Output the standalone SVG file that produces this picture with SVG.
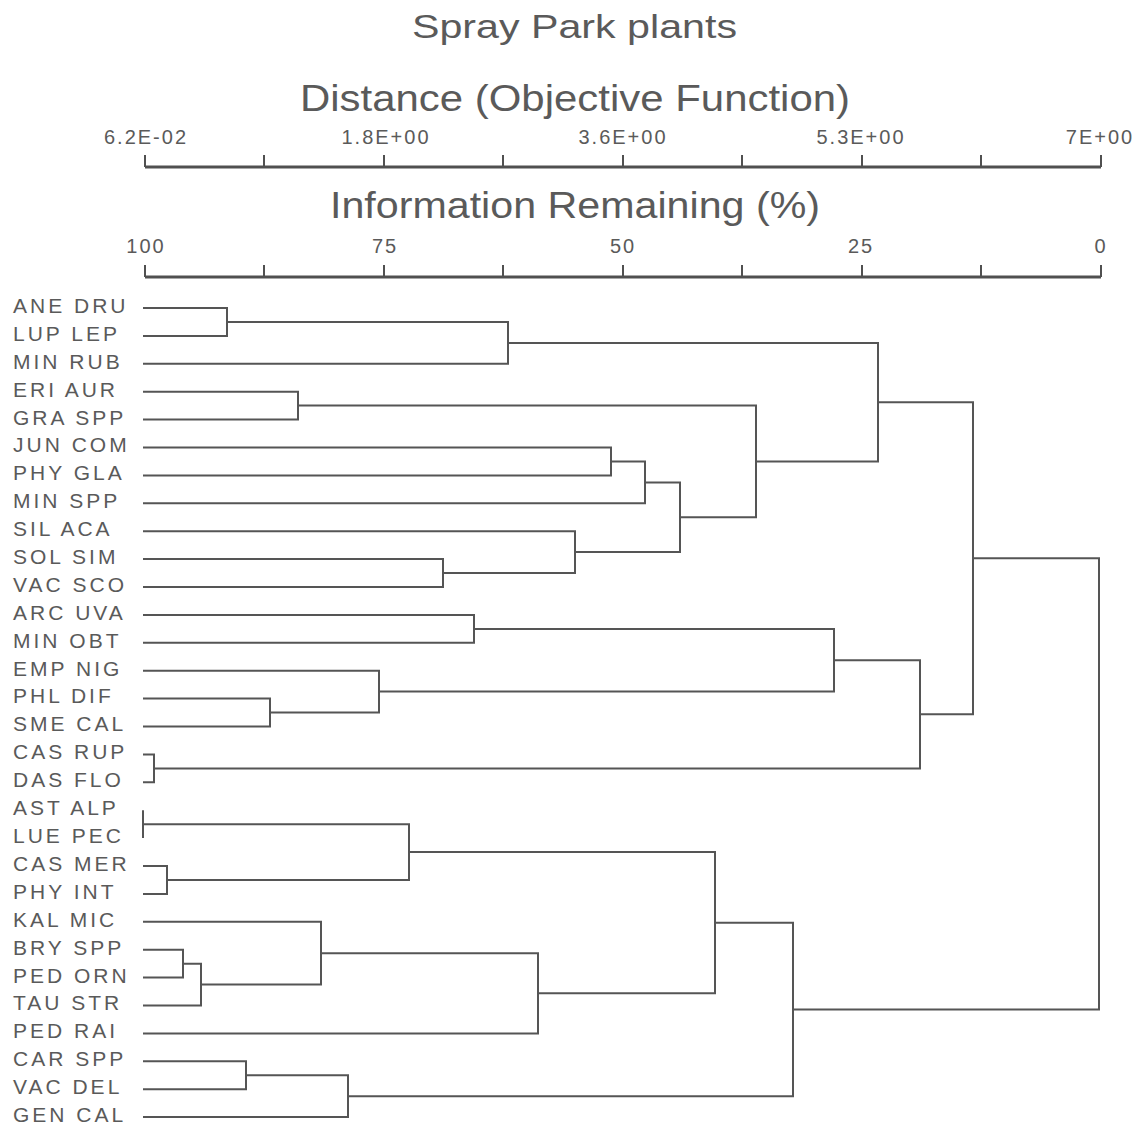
<svg xmlns="http://www.w3.org/2000/svg" width="1143" height="1130" viewBox="0 0 1143 1130">
<style>
text{font-family:"Liberation Sans",Arial,sans-serif;fill:#5a5a5a}
.title{font-size:34px}
.atitle{font-size:37px}
.tick{font-size:20px;letter-spacing:2px}
.leaf{font-size:21px;letter-spacing:3px}
.axis{stroke:#505050;stroke-width:3;fill:none}
.tk{stroke:#505050;stroke-width:2;fill:none}
.c{stroke:#555;stroke-width:2;fill:none}
</style>
<rect width="1143" height="1130" fill="#fff"/>
<text class="title" x="412" y="38" textLength="325" lengthAdjust="spacingAndGlyphs">Spray Park plants</text>
<g id="axis-distance">
<text class="atitle" x="300" y="111" textLength="550" lengthAdjust="spacingAndGlyphs">Distance (Objective Function)</text>
<g text-anchor="middle">
<text class="tick" x="146" y="144">6.2E-02</text>
<text class="tick" x="386" y="144">1.8E+00</text>
<text class="tick" x="623" y="144">3.6E+00</text>
<text class="tick" x="861" y="144">5.3E+00</text>
<text class="tick" x="1100" y="144">7E+00</text>
</g>
<path class="axis" d="M145 167H1101"/>
<path class="tk" d="M145 155V167M264 155V167M384 155V167M503 155V167M623 155V167M742 155V167M862 155V167M981 155V167M1101 155V167"/>
</g>
<g id="axis-info">
<text class="atitle" x="330" y="218" textLength="490" lengthAdjust="spacingAndGlyphs">Information Remaining (%)</text>
<g text-anchor="middle">
<text class="tick" x="146" y="253">100</text>
<text class="tick" x="385" y="253">75</text>
<text class="tick" x="623" y="253">50</text>
<text class="tick" x="861" y="253">25</text>
<text class="tick" x="1101" y="253">0</text>
</g>
<path class="axis" d="M145 277H1101"/>
<path class="tk" d="M145 265V277M264 265V277M384 265V277M503 265V277M623 265V277M742 265V277M862 265V277M981 265V277M1101 265V277"/>
</g>
<g id="leaves">
<g id="n-ANE-DRU"><text class="leaf" x="13" y="313">ANE DRU</text></g>
<g id="n-LUP-LEP"><text class="leaf" x="13" y="341">LUP LEP</text></g>
<g id="n-MIN-RUB"><text class="leaf" x="13" y="369">MIN RUB</text></g>
<g id="n-ERI-AUR"><text class="leaf" x="13" y="397">ERI AUR</text></g>
<g id="n-GRA-SPP"><text class="leaf" x="13" y="425">GRA SPP</text></g>
<g id="n-JUN-COM"><text class="leaf" x="13" y="452">JUN COM</text></g>
<g id="n-PHY-GLA"><text class="leaf" x="13" y="480">PHY GLA</text></g>
<g id="n-MIN-SPP"><text class="leaf" x="13" y="508">MIN SPP</text></g>
<g id="n-SIL-ACA"><text class="leaf" x="13" y="536">SIL ACA</text></g>
<g id="n-SOL-SIM"><text class="leaf" x="13" y="564">SOL SIM</text></g>
<g id="n-VAC-SCO"><text class="leaf" x="13" y="592">VAC SCO</text></g>
<g id="n-ARC-UVA"><text class="leaf" x="13" y="620">ARC UVA</text></g>
<g id="n-MIN-OBT"><text class="leaf" x="13" y="648">MIN OBT</text></g>
<g id="n-EMP-NIG"><text class="leaf" x="13" y="676">EMP NIG</text></g>
<g id="n-PHL-DIF"><text class="leaf" x="13" y="703">PHL DIF</text></g>
<g id="n-SME-CAL"><text class="leaf" x="13" y="731">SME CAL</text></g>
<g id="n-CAS-RUP"><text class="leaf" x="13" y="759">CAS RUP</text></g>
<g id="n-DAS-FLO"><text class="leaf" x="13" y="787">DAS FLO</text></g>
<g id="n-AST-ALP"><text class="leaf" x="13" y="815">AST ALP</text></g>
<g id="n-LUE-PEC"><text class="leaf" x="13" y="843">LUE PEC</text></g>
<g id="n-CAS-MER"><text class="leaf" x="13" y="871">CAS MER</text></g>
<g id="n-PHY-INT"><text class="leaf" x="13" y="899">PHY INT</text></g>
<g id="n-KAL-MIC"><text class="leaf" x="13" y="927">KAL MIC</text></g>
<g id="n-BRY-SPP"><text class="leaf" x="13" y="955">BRY SPP</text></g>
<g id="n-PED-ORN"><text class="leaf" x="13" y="983">PED ORN</text></g>
<g id="n-TAU-STR"><text class="leaf" x="13" y="1010">TAU STR</text></g>
<g id="n-PED-RAI"><text class="leaf" x="13" y="1038">PED RAI</text></g>
<g id="n-CAR-SPP"><text class="leaf" x="13" y="1066">CAR SPP</text></g>
<g id="n-VAC-DEL"><text class="leaf" x="13" y="1094">VAC DEL</text></g>
<g id="n-GEN-CAL"><text class="leaf" x="13" y="1122">GEN CAL</text></g>
</g>
<g id="connectors">
<path class="c" d="M143 308H227V335.9H143"/>
<path class="c" d="M227 322H508V363.8H143"/>
<path class="c" d="M143 391.7H298V419.6H143"/>
<path class="c" d="M143 447.5H611V475.4H143"/>
<path class="c" d="M611 461.5H645V503.3H143"/>
<path class="c" d="M143 559.1H443V587H143"/>
<path class="c" d="M143 531.2H575V573H443"/>
<path class="c" d="M645 482.4H680V552.1H575"/>
<path class="c" d="M298 405.6H756V517.3H680"/>
<path class="c" d="M508 343H878V461.5H756"/>
<path class="c" d="M143 614.9H474V642.8H143"/>
<path class="c" d="M143 698.6H270V726.5H143"/>
<path class="c" d="M143 670.7H379V712.6H270"/>
<path class="c" d="M474 628.9H834V691.6H379"/>
<path class="c" d="M143 754.4H154V782.3H143"/>
<path class="c" d="M834 660.3H920V768.4H154"/>
<path class="c" d="M878 402.2H973V714.3H920"/>
<path class="c" d="M143 810.2V838.1"/>
<path class="c" d="M143 866H167V893.9H143"/>
<path class="c" d="M143 824.2H409V880H167"/>
<path class="c" d="M143 949.7H183V977.6H143"/>
<path class="c" d="M183 963.7H201V1005.5H143"/>
<path class="c" d="M143 921.8H321V984.6H201"/>
<path class="c" d="M321 953.2H538V1033.4H143"/>
<path class="c" d="M409 852.1H715V993.3H538"/>
<path class="c" d="M143 1061.3H246V1089.2H143"/>
<path class="c" d="M246 1075.3H348V1117.1H143"/>
<path class="c" d="M715 922.7H793V1096.2H348"/>
<path class="c" d="M973 558.3H1099V1009.4H793"/>
</g>
</svg>
